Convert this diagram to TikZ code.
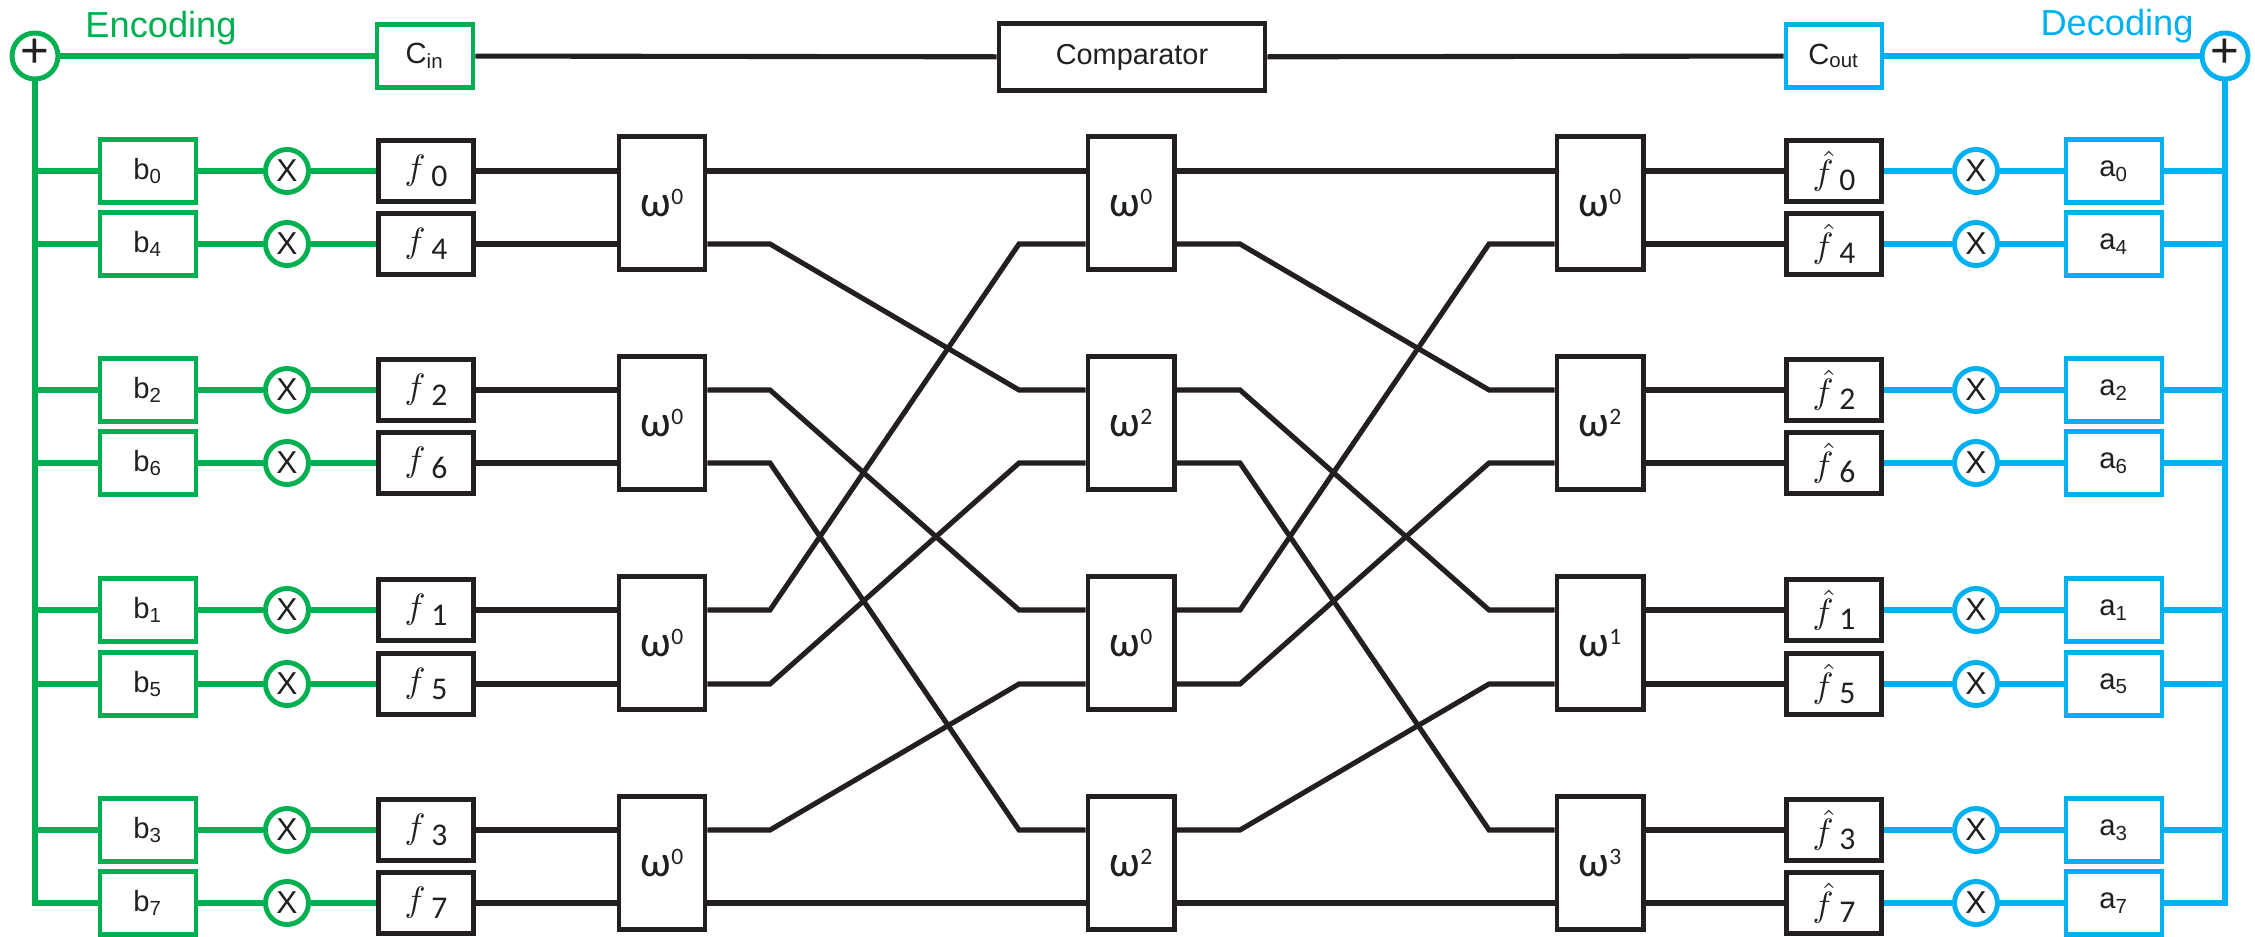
\documentclass[tikz,border=0pt]{standalone}
\usepackage{fontspec}
\setmainfont{Liberation Sans}
\newfontfamily\glyphfont{Carlito}
\definecolor{encgreen}{HTML}{00B050}
\definecolor{decblue}{HTML}{00B0F0}
\definecolor{ink}{HTML}{231F20}
% index helpers for the spectrum and twiddle labels
\newcommand\fsub[1]{\,\raisebox{-1.8pt}{\glyphfont\fontsize{9}{10}\selectfont #1}}
\newcommand\wexp[1]{\raisebox{3.4pt}{\fontsize{6.7}{7}\selectfont #1}}
\tikzset{
  every node/.style={inner sep=0pt, text=ink},
  link/.style={line width=1.45pt},
  glink/.style={link, draw=encgreen},
  blink/.style={link, draw=decblue},
  klink/.style={link, draw=ink},
  labbox/.style={fill=white, minimum width=0.96cm, minimum height=0.63cm,
    font=\fontsize{8.3}{9}\selectfont},
  gbox/.style={labbox, draw=encgreen, line width=1.3pt},
  bbox/.style={labbox, draw=decblue, line width=1.3pt},
  fbox/.style={fill=white, draw=ink, line width=1.5pt, minimum width=0.95cm,
    minimum height=0.61cm, font=\fontsize{9.8}{11}\selectfont},
  wbox/.style={fill=white, draw=ink, line width=1.4pt, minimum width=0.86cm,
    minimum height=1.33cm, font=\glyphfont\fontsize{12.5}{13}\selectfont},
  cmpbox/.style={fill=white, draw=ink, line width=1.3pt, minimum width=2.66cm,
    minimum height=0.67cm, font=\fontsize{8.2}{9}\selectfont},
  mul/.style={circle, fill=white, line width=1.4pt, minimum size=0.43cm,
    font=\fontsize{9}{9}\selectfont},
  sum/.style={circle, fill=white, line width=1.4pt, minimum size=0.46cm,
    font=\fontsize{14}{14}\selectfont},
  title/.style={anchor=base, font=\fontsize{10.3}{12}\selectfont},
}
\begin{document}
\begin{tikzpicture}[x=0.01cm, y=-0.01cm]
\useasboundingbox (0,0) rectangle (2255,937);

% top row: summing points, references and comparator
\node[sum, draw=encgreen] (plusL) at (35,56) {\raisebox{1.5pt}{+}};
\node[sum, draw=decblue] (plusR) at (2225,56) {\raisebox{1.5pt}{+}};
\node[gbox] (cin) at (425,56) {C\textsubscript{in}};
\node[cmpbox] (cmp) at (1132,57) {Comparator};
\node[bbox] (cout) at (1834,56) {C\textsubscript{out}};
\node[title, text=encgreen] (enc) at (161,38) {Encoding};
\node[title, text=decblue] (dec) at (2117,36) {Decoding};

% per-row blocks; rows are listed in bit-reversed order
\foreach \i/\k/\y in {0/0/171,1/4/244,2/2/390,3/6/463,4/1/610,5/5/684,6/3/830,7/7/903} {
  \node[gbox] (b\i) at (148,\y) {b\textsubscript{\k}};
  \node[mul, draw=encgreen] (xl\i) at (287,\y) {X};
  \node[fbox] (f\i) at (426,\y) {$f$\fsub{\k}};
  \node[fbox] (fh\i) at (1834,\y) {$\hat{f}$\fsub{\k}};
  \node[mul, draw=decblue] (xr\i) at (1976,\y) {X};
  \node[bbox] (a\i) at (2114,\y) {a\textsubscript{\k}};
  \coordinate (s1o\i) at (770,\y);
  \coordinate (s2i\i) at (1019,\y);
  \coordinate (s2o\i) at (1240,\y);
  \coordinate (s3i\i) at (1489,\y);
}

% butterfly stages
\foreach \g/\yc/\eb/\ec in {0/203/0/0,1/423/2/2,2/643/0/1,3/863/2/3} {
  \node[wbox] (wa\g) at (662,\yc) {ω\wexp{0}};
  \node[wbox] (wb\g) at (1131,\yc) {ω\wexp{\eb}};
  \node[wbox] (wc\g) at (1600,\yc) {ω\wexp{\ec}};
}

% top connections
\draw[glink] (plusL) -- (cin);
\draw[klink] (cin) -- (cmp);
\draw[klink] (cmp) -- (cout);
\draw[blink] (cout) -- (plusR);

% collecting buses
\draw[glink] (plusL.south) |- (b7.west);
\draw[blink] (plusR.south) |- (a7.east);

\foreach \i in {0,...,7} {
  \pgfmathtruncatemacro\g{\i/2}
  \draw[glink] (plusL.south |- b\i.west) -- (b\i.west);
  \draw[glink] (b\i) -- (xl\i) -- (f\i);
  \draw[klink] (f\i.east) -- (wa\g.west |- f\i.east);
  \draw[klink] (wc\g.east |- fh\i.west) -- (fh\i.west);
  \draw[blink] (fh\i) -- (xr\i) -- (a\i);
  \draw[blink] (a\i.east) -- (plusR.south |- a\i.east);
}

% perfect-shuffle wiring between stages
\foreach \i/\p in {0/0,1/2,2/4,3/6,4/1,5/3,6/5,7/7} {
  \pgfmathtruncatemacro\g{\i/2}
  \pgfmathtruncatemacro\h{\p/2}
  \draw[klink] (wa\g.east |- s1o\i) -- (s1o\i) -- (s2i\p) -- (wb\h.west |- s2i\p);
  \draw[klink] (wb\g.east |- s2o\i) -- (s2o\i) -- (s3i\p) -- (wc\h.west |- s3i\p);
}
\end{tikzpicture}
\end{document}
